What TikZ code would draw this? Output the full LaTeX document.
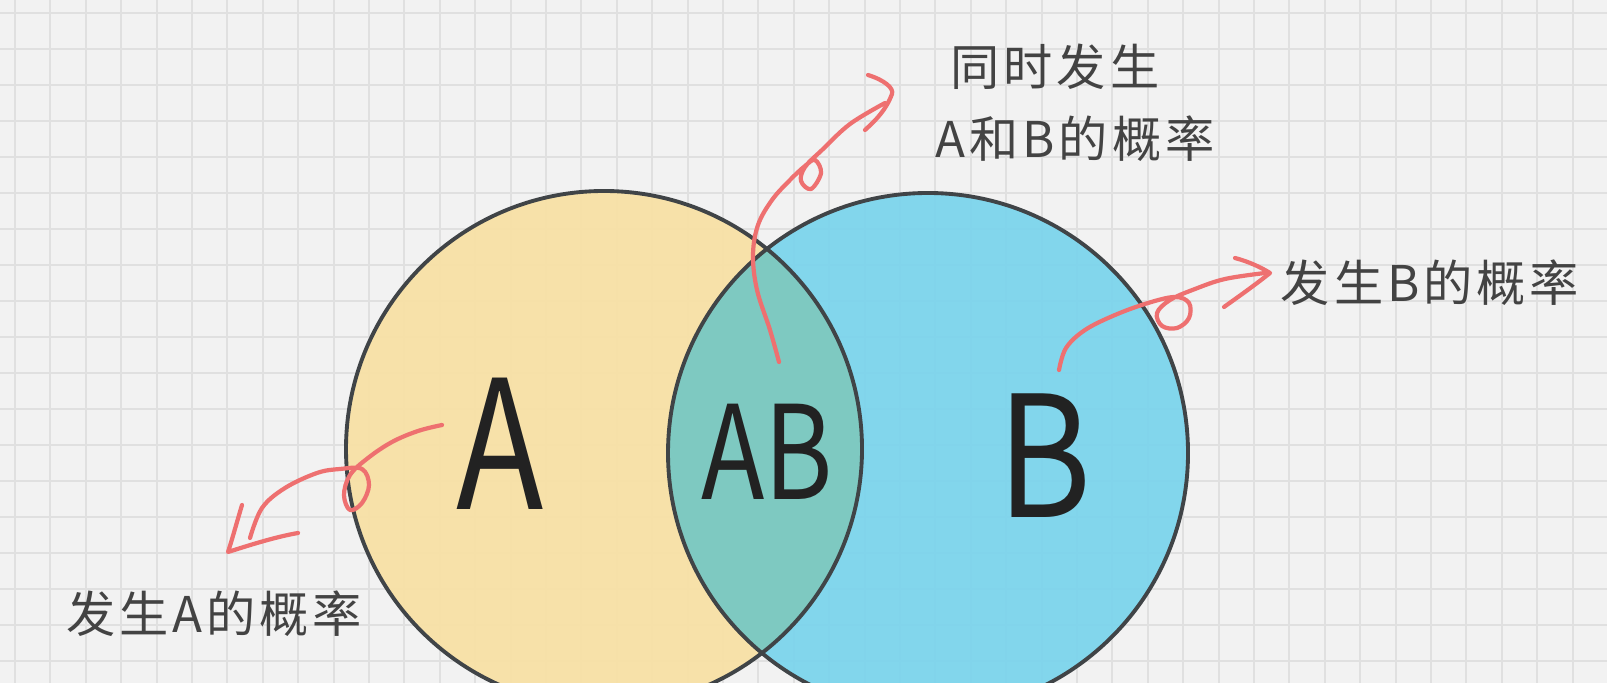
\documentclass[tikz,border=0pt]{standalone}
\usepackage{fontspec}
\newfontfamily\cjk{Noto Sans CJK SC}
\newfontfamily\cjknote{Noto Sans CJK SC}[LetterSpace=8]
\usepackage{tikz}
\definecolor{paper}{HTML}{F2F2F2}
\definecolor{gridline}{HTML}{E0E0E0}
\definecolor{fillA}{HTML}{F8E0A4}
\definecolor{fillB}{HTML}{7AD4EC}
\definecolor{fillAB}{HTML}{7EC9C1}
\definecolor{rim}{HTML}{404447}
\definecolor{penred}{HTML}{EE7070}
\definecolor{ink}{HTML}{222222}

\begin{document}
\begin{tikzpicture}[x=0.01cm,y=-0.01cm,
  big/.style={font=\cjk\fontsize{51}{51}\selectfont, text=ink, inner sep=0pt},
  note/.style={font=\cjknote\fontsize{14}{14}\selectfont, text=ink!85, inner sep=0pt},
  redpen/.style={draw=penred, line width=1.2pt, line cap=round, line join=round}]
\useasboundingbox (0,0) rectangle (1607,683);
\fill[paper] (0,0) rectangle (1607,683);
\foreach \i in {0,...,45} % grid, vertical
  \draw[gridline, line width=0.6pt] ({15+35.4*\i},0) -- ({15+35.4*\i},683);
\foreach \j in {0,...,18} % grid, horizontal
  \draw[gridline, line width=0.6pt] (0,{13.3+36*\j}) -- (1607,{13.3+36*\j});
\coordinate (cA) at (604,449);
\coordinate (cB) at (928,453);
\fill[fillA, opacity=0.93] (cA) circle (258);
\fill[fillB, opacity=0.93] (cB) circle (260);
\begin{scope} % overlap of A and B
\clip (cA) circle (258);
\fill[fillAB] (cB) circle (260);
\end{scope}
\draw[rim, line width=1.1pt] (cA) circle (258);
\draw[rim, line width=1.1pt] (cB) circle (260);
\node[big, xscale=0.8] (A) at (500,444) {A};
\node[big, xscale=0.8, font=\cjk\fontsize{37}{37}\selectfont] (AB) at (767,452) {AB};
\node[big, xscale=0.85, font=\cjk\fontsize{48}{48}\selectfont] (B) at (1045,456) {B};
\node[note] (L1) at (1055,67) {同时发生};
\node[note] (L2) at (1075,139) {A和B的概率};
\node[note] (LB) at (1430,283) {发生B的概率};
\node[note] (LA) at (214,614) {发生A的概率};
\coordinate (ABfrom) at (779,362);
\coordinate (ABtip) at (892,94);
\coordinate (Bfrom) at (1059,370);
\coordinate (Btip) at (1270,273);
\coordinate (Afrom) at (442,425);
\coordinate (Atip) at (228,552);
\draw[redpen] plot[smooth, tension=0.6] coordinates {(ABfrom) (770,330) (757,290) (753,255) (758,225) (772,200) (790,180) (805,166) (815,160) (821,173) (811,189) (801,181) (805,167) (822,150) (850,124) (885,103)}; % AB to top
\draw[redpen] (868,75) .. controls (884,80) and (894,88) .. (ABtip) .. controls (886,110) and (876,120) .. (865,130);
\draw[redpen] plot[smooth, tension=0.6] coordinates {(Bfrom) (1066,348) (1085,330) (1115,315) (1148,303) (1175,297) (1189,303) (1189,318) (1177,328) (1162,326) (1157,313) (1170,300) (1195,289) (1225,279) (1265,273)}; % B to right
\draw[redpen] (1235,258) .. controls (1250,262) and (1262,268) .. (Btip) .. controls (1255,285) and (1238,297) .. (1224,307);
\draw[redpen] plot[smooth, tension=0.6] coordinates {(Afrom) (418,431) (392,442) (368,458) (350,475) (344,495) (350,510) (362,503) (369,485) (362,469) (340,469) (317,473) (285,488) (262,508) (250,538)}; % A to lower left
\draw[redpen] (242,505) .. controls (236,525) and (232,540) .. (Atip) .. controls (250,545) and (275,537) .. (298,533);
\end{tikzpicture}
\end{document}
